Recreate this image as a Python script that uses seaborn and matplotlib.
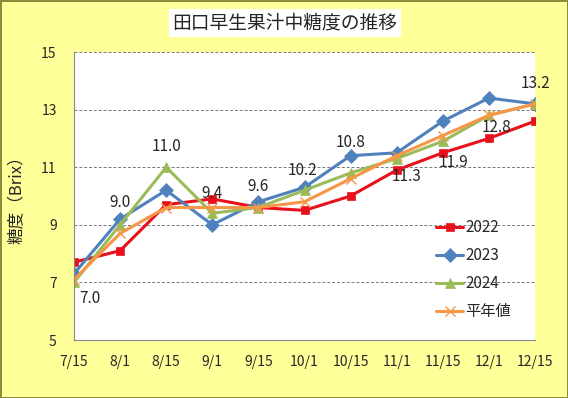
import matplotlib
matplotlib.use("Agg")
import matplotlib.pyplot as plt
import seaborn as sns
import pandas as pd
import numpy as np

dates = ["7/15", "8/1", "8/15", "9/1", "9/15", "10/1", "10/15", "11/1", "11/15", "12/1", "12/15"]
v2022 = [7.7, 8.1, 9.7, 9.9, 9.6, 9.5, 10.0, 10.9, 11.5, 12.0, 12.6]
v2023 = [7.3, 9.2, 10.2, 9.0, 9.8, 10.3, 11.4, 11.5, 12.6, 13.4, 13.2]
v2024 = [7.0, 9.0, 11.0, 9.4, 9.6, 10.2, 10.8, 11.3, 11.9, 12.8, 13.2]
normal = [7.1, 8.7, 9.6, 9.6, 9.6, 9.8, 10.6, 11.4, 12.1, 12.8, 13.2]
series_names = ["2022", "2023", "2024", "平年値"]
title = "田口早生果汁中糖度の推移"
ylabel = "糖度（Brix）"
yticks = [5, 7, 9, 11, 13, 15]

sns.set_theme(style="white")
plt.rcParams['font.family'] = ['Noto Sans CJK JP', 'DejaVu Sans']

rows = []
for name, vals in zip(series_names, [v2022, v2023, v2024, normal]):
    for i, (d, v) in enumerate(zip(dates, vals)):
        rows.append({"idx": i, "date": d, "value": v, "series": name})
df = pd.DataFrame(rows)

palette = {"2022": "#E8101A", "2023": "#4F81BD", "2024": "#9BBB59", "平年値": "#F79646"}
markers = {"2022": "s", "2023": "D", "2024": "^", "平年値": "x"}
msizes = {"2022": 5.5, "2023": 7, "2024": 7.5, "平年値": 7}

fig = plt.figure(figsize=(5.68, 3.98), dpi=100)
fig.patch.set_facecolor("#FFFF99")
fig.patch.set_edgecolor("#8C8C3C")
fig.patch.set_linewidth(2)
ax = fig.add_axes([74 / 568, 58 / 398, 461 / 568, 288 / 398])
ax.set_facecolor("white")

for name in series_names:
    sub = df[df["series"] == name]
    sns.lineplot(data=sub, x="idx", y="value", color=palette[name], marker=markers[name],
                 markersize=msizes[name], markeredgewidth=1.0 if name == "平年値" else 0.5,
                 markeredgecolor=palette[name], linewidth=2.2, ax=ax, label=name)

ax.set_xlim(0, len(dates) - 1)
ax.set_ylim(yticks[0], yticks[-1])
ax.set_xticks(range(len(dates)))
ax.set_xticklabels(dates, fontsize=10)
ax.set_yticks(yticks)
ax.set_yticklabels([str(t) for t in yticks], fontsize=10)
ax.tick_params(axis="both", direction="out", length=3.5, width=0.8, color="#888888")
ax.tick_params(axis="x", pad=7.5)
ax.tick_params(axis="y", pad=9)
ax.set_xlabel("")
ax.set_ylabel(ylabel, fontsize=12, labelpad=11)
for y in yticks[1:]:
    ax.axhline(y, color="#777777", linestyle=(0, (3, 2)), linewidth=0.7, zorder=0)
for s in ["top", "right"]:
    ax.spines[s].set_visible(False)
for s in ["left", "bottom"]:
    ax.spines[s].set_color("#888888")
    ax.spines[s].set_linewidth(0.8)

# data labels for 2024 (offsets in pixels)
offsets = [(16, -16), (0, 22), (0, 21), (0, 20), (0, 21), (-2, 20),
           (0, 30), (10, -18), (11, -21), (8, -12), (0, 20)]
for i, (v, off) in enumerate(zip(v2024, offsets)):
    ax.annotate(f"{v:.1f}", (i, v), xytext=off, textcoords="offset pixels",
                ha="center", va="center", fontsize=11)

leg = ax.legend(loc="center left", bbox_to_anchor=(0.785, 0.245), frameon=False,
                fontsize=11, labelspacing=0.72, handlelength=1.8, handletextpad=0.15,
                borderpad=0, borderaxespad=0)

fig.text(285 / 568, 1 - 23 / 398, title, ha="center", va="center", fontsize=13.5,
         bbox=dict(facecolor="white", edgecolor="none", pad=2.5))

fig.savefig("out.png", dpi=100, facecolor=fig.get_facecolor(), edgecolor=fig.patch.get_edgecolor())
